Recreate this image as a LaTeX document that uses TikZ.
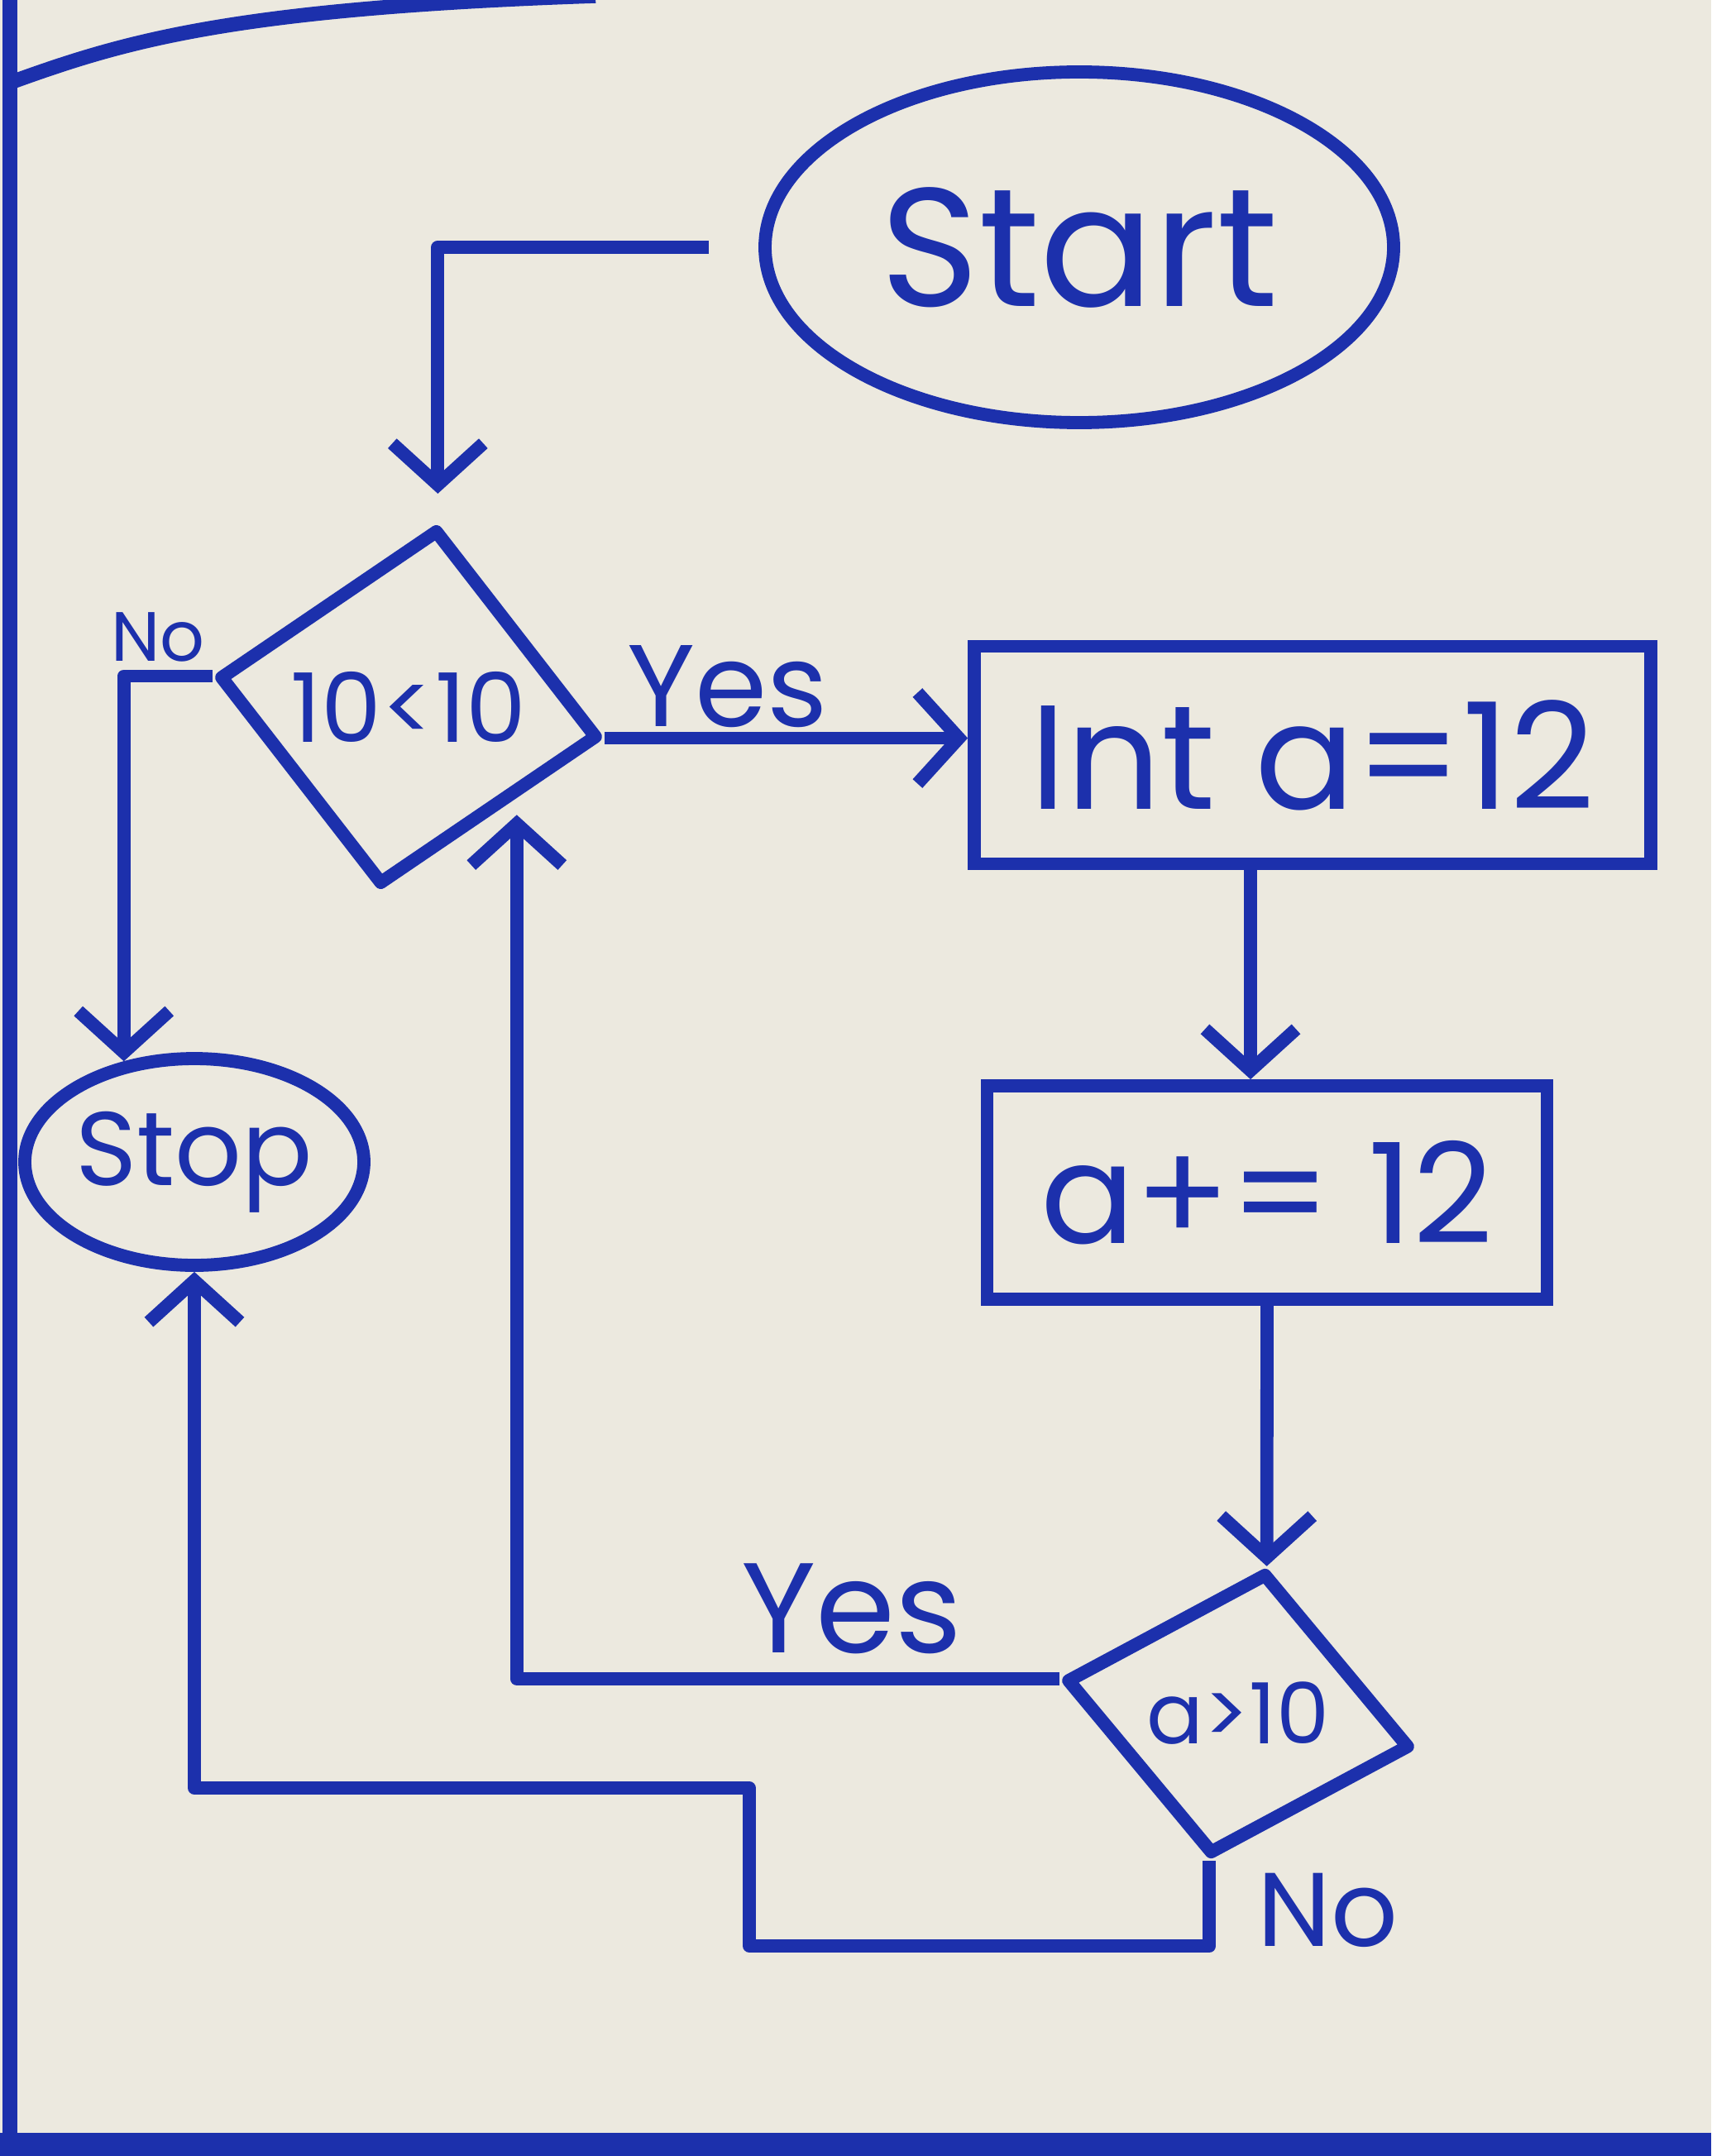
\documentclass[tikz,border=0pt]{standalone}
\usepackage{fontspec}
\setmainfont{Poppins}
\usetikzlibrary{shapes,arrows.meta}
\definecolor{ink}{RGB}{28,48,172}
\definecolor{paper}{RGB}{236,233,223}
\tikzstyle{node_terminal} = [ellipse, draw, ink, line width=4.5pt, inner sep=0pt]
\tikzstyle{node_process} = [rectangle, draw, ink, line width=4.5pt, inner sep=0pt]
\tikzstyle{node_decision} = [diamond, draw, ink, line width=4.5pt, inner sep=0pt, line join=round]
\tikzstyle{node_label} = [ink, inner sep=0pt]
\tikzstyle{edge_flow} = [ink, line width=4.5pt, line join=round, -{Straight Barb[length=5mm,width=11mm]}]
\tikzstyle{edge_frame} = [ink, line width=5pt]

\begin{document}
\begin{tikzpicture}
\fill[paper] (0,0) rectangle (20.69,-26.07);
\useasboundingbox (0,0) rectangle (20.69,-26.07);
\draw[edge_frame] (0.12,0) -- (0.12,-26.07);
\draw[edge_frame] (0.12,-1.0) .. controls (1.5,-0.5) and (2.8,-0.1) .. (7.2,0.05);
\draw[edge_frame, line width=9pt] (0,-25.95) -- (20.69,-25.95);

\node (Start) at (13.05,-2.99) [node_terminal, minimum width=7.6cm, minimum height=4.24cm, font=\fontsize{58}{66}\selectfont] {Start};
\node (Q1) at (4.94,-8.55) [node_decision, rotate=-9, minimum width=4.64cm, minimum height=4.36cm, font=\fontsize{33}{38}\selectfont] {\rotatebox{9}{10<10}};
\node (Init) at (15.87,-9.13) [node_process, minimum width=8.18cm, minimum height=2.63cm, font=\fontsize{51}{58}\selectfont] {Int a=12};
\node (Add) at (15.32,-14.42) [node_process, minimum width=6.77cm, minimum height=2.58cm, font=\fontsize{48}{56}\selectfont] {a+= 12};
\node (Q2) at (14.97,-20.72) [node_decision, rotate=-11, minimum width=4.24cm, minimum height=3.41cm, font=\fontsize{29}{34}\selectfont] {\rotatebox{11}{a>10}};
\node (Stop) at (2.35,-14.05) [node_terminal, minimum width=4.1cm, minimum height=2.5cm, font=\fontsize{36}{42}\selectfont] {Stop};

\node (NoA) at (1.91,-7.7) [node_label, font=\fontsize{24}{28}\selectfont] {No};
\node (YesA) at (8.8,-8.3) [node_label, font=\fontsize{40}{46}\selectfont] {Yes};
\node (YesB) at (10.3,-19.45) [node_label, font=\fontsize{44}{50}\selectfont] {Yes};
\node (NoB) at (16.05,-23.1) [node_label, font=\fontsize{36}{42}\selectfont] {No};

\coordinate (JogA) at (9.06,-23.53);
\coordinate (JogB) at (9.06,-21.62);

\draw[edge_flow, shorten >=0.35cm] ([xshift=-0.6cm]Start.west) -| (Q1.north);
\draw[edge_flow] (Q1.east) -- (Q1.east -| Init.west);
\draw[edge_flow] ([xshift=-0.75cm]Init.south) -- ([xshift=-0.75cm]Init.south |- Add.north);
\draw[edge_flow] (Add.south) -- (Q2.north);
\draw[edge_flow] (Q1.west) -| (Stop.125);
\draw[edge_flow] (Q2.west) -| ([xshift=0.3cm]Q1.south east);
\draw[edge_flow] (Q2.south) |- (JogA) -- (JogB) -| (Stop.south);
\end{tikzpicture}
\end{document}
